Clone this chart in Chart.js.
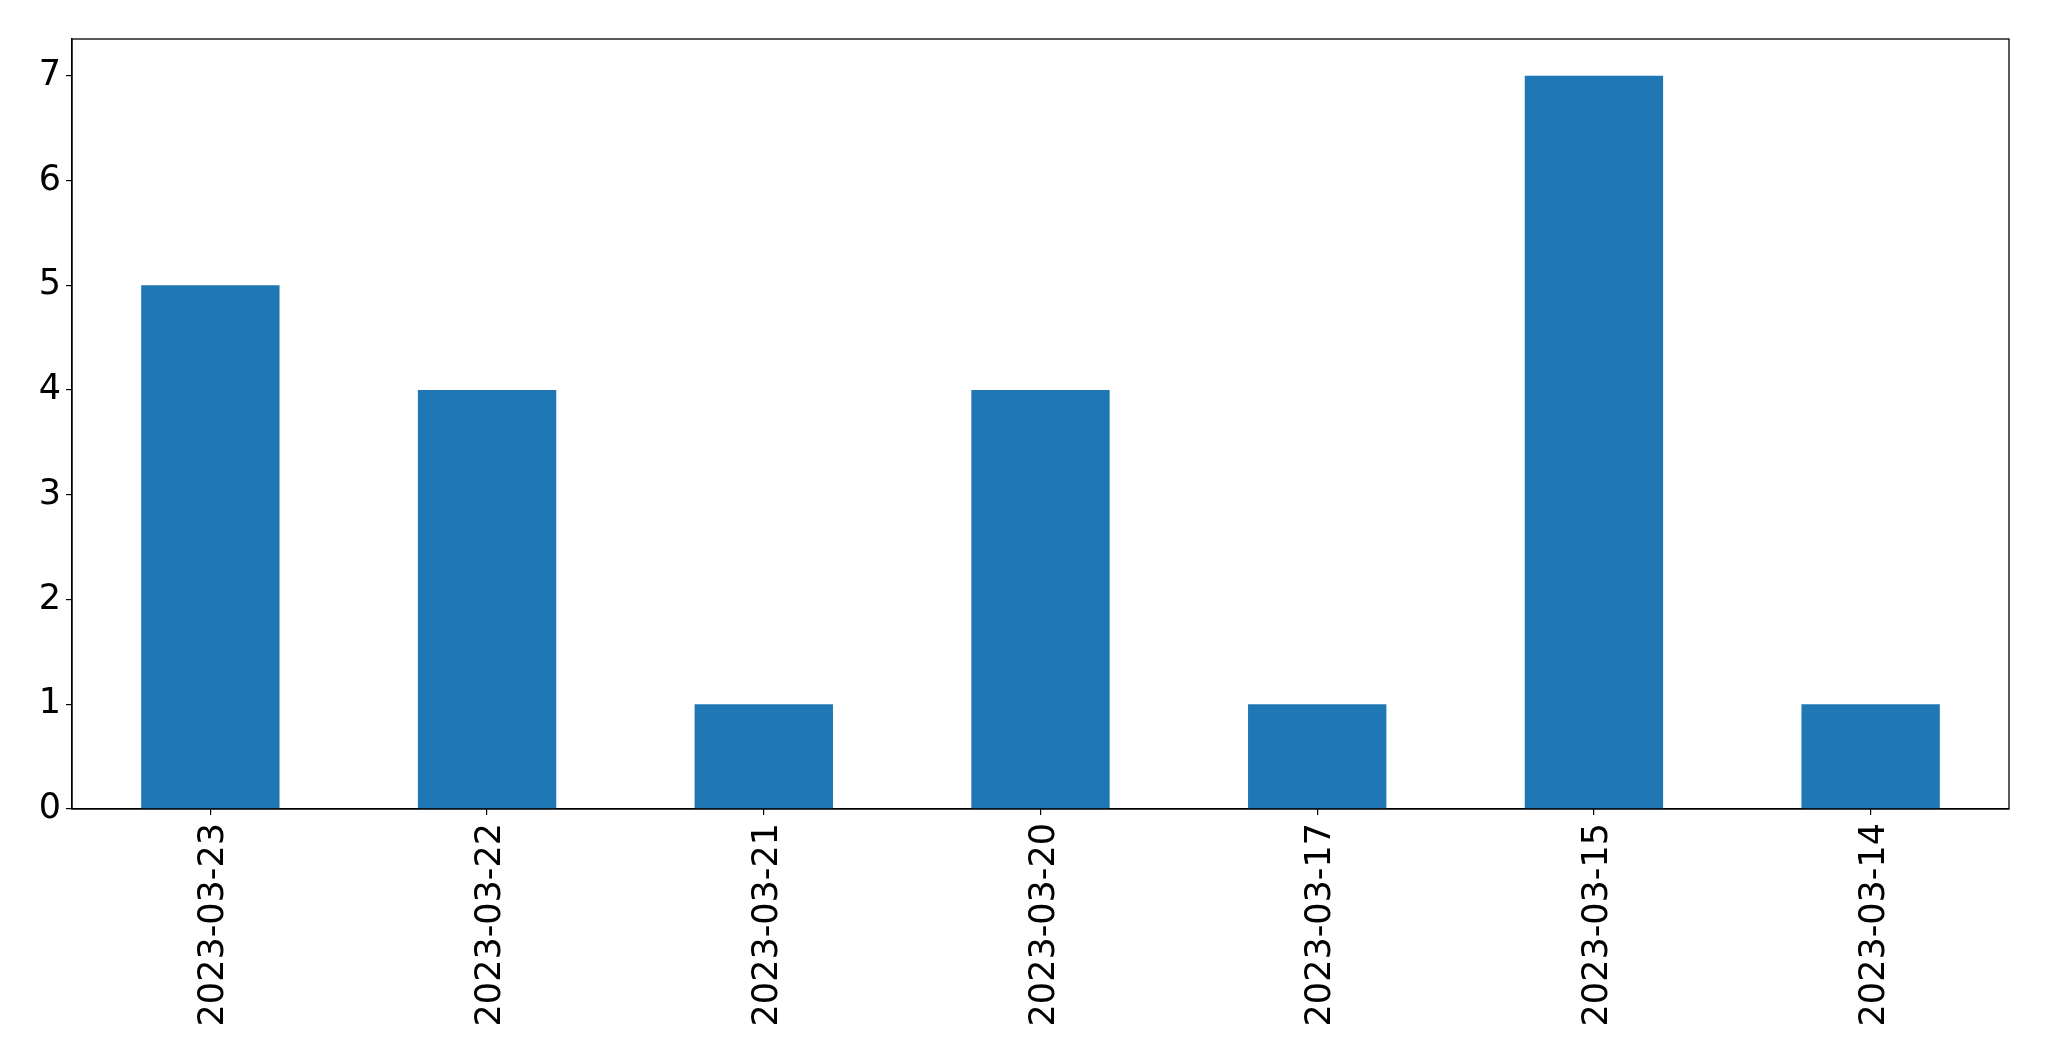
<!DOCTYPE html>
<html>
<head>
<meta charset="utf-8">
<script src="https://cdn.jsdelivr.net/npm/chart.js@4.4.0/dist/chart.umd.min.js"></script>
<style>
  html, body { margin: 0; padding: 0; background: #fff; }
  #wrap { width: 2049px; height: 1061px; position: relative; }
</style>
</head>
<body>
<div id="wrap"><canvas id="chart"></canvas></div>
<script>
// data
const dates = ['2023-03-23', '2023-03-22', '2023-03-21', '2023-03-20', '2023-03-17', '2023-03-15', '2023-03-14'];
const counts = [5, 4, 1, 4, 1, 7, 1];
const yTicks = [0, 1, 2, 3, 4, 5, 6, 7];

// axes frame (all four sides)
const frame = {
  id: 'frame',
  afterDatasetsDraw(chart) {
    const { ctx, chartArea: a } = chart;
    ctx.save();
    ctx.strokeStyle = '#000';
    ctx.lineWidth = 1.3;
    ctx.strokeRect(a.left, a.top, a.right - a.left, a.bottom - a.top);
    ctx.restore();
  }
};

new Chart(document.getElementById('chart'), {
  type: 'bar',
  data: {
    labels: dates,
    datasets: [{
      data: counts,
      backgroundColor: '#1f77b4',
      borderWidth: 0,
      categoryPercentage: 1.0,
      barPercentage: 0.5
    }]
  },
  options: {
    responsive: true,
    maintainAspectRatio: false,
    animation: false,
    layout: { padding: { top: 39, right: 40, left: 0, bottom: 0 } },
    plugins: { legend: { display: false }, tooltip: { enabled: false } },
    scales: {
      x: {
        grid: { display: true, offset: false, drawOnChartArea: false, drawTicks: true, tickLength: 6, color: '#000', lineWidth: 1.2 },
        border: { display: true, color: '#000', width: 1.3 },
        ticks: {
          color: '#000',
          font: { family: 'DejaVu Sans', size: 35 },
          maxRotation: 90, minRotation: 90,
          padding: 8,
          labelOffset: 4,
          autoSkip: false
        },
        afterFit(scale) { scale.height = 1061 - 809; }
      },
      y: {
        min: 0,
        max: 7.35,
        grid: { display: true, drawOnChartArea: false, drawTicks: true, tickLength: 6, color: '#000', lineWidth: 1.2 },
        border: { display: true, color: '#000', width: 1.3 },
        ticks: {
          color: '#000',
          font: { family: 'DejaVu Sans', size: 35 },
          padding: 5,
          includeBounds: false
        },
        afterBuildTicks(scale) { scale.ticks = yTicks.map(v => ({ value: v })); },
        afterFit(scale) { scale.width = 72; }
      }
    }
  },
  plugins: [frame]
});
</script>
</body>
</html>
